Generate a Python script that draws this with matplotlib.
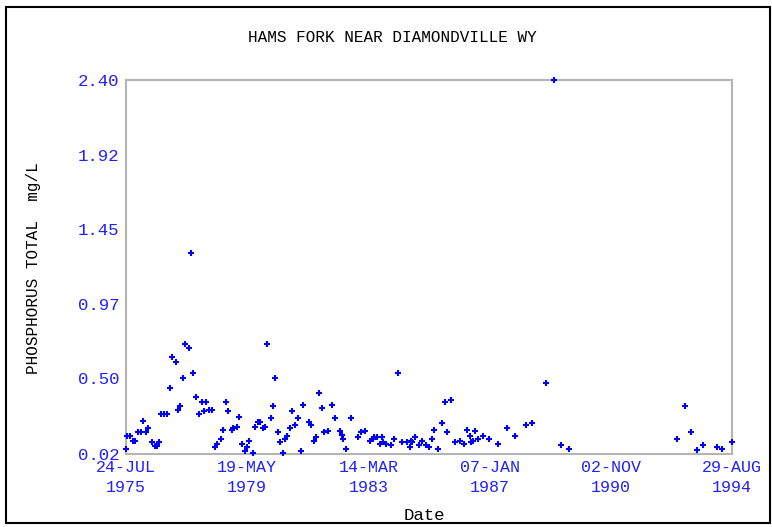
import matplotlib
matplotlib.use("Agg")
import matplotlib.pyplot as plt
from matplotlib.patches import Rectangle
import pandas as pd

title = "HAMS FORK NEAR DIAMONDVILLE WY"
ylabel = "PHOSPHORUS TOTAL  mg/L"
xlabel = "Date"

tick_dates = ["1975-07-24", "1979-05-19", "1983-03-14", "1987-01-07", "1990-11-02", "1994-08-29"]
tick_labels = ["24-JUL\n1975", "19-MAY\n1979", "14-MAR\n1983", "07-JAN\n1987", "02-NOV\n1990", "29-AUG\n1994"]
ytick_values = [0.02, 0.50, 0.97, 1.45, 1.92, 2.40]

# sample dates as decimal years
years = [
    1975.56, 1975.58, 1975.70, 1975.77, 1975.83, 1975.93, 1976.03, 1976.10, 1976.19, 1976.26,
    1976.38, 1976.46, 1976.53, 1976.60, 1976.67, 1976.76, 1976.86, 1976.94, 1977.01, 1977.13,
    1977.20, 1977.27, 1977.35, 1977.42, 1977.54, 1977.60, 1977.68, 1977.77, 1977.87, 1977.945,
    1978.02, 1978.09, 1978.17, 1978.28, 1978.36, 1978.44, 1978.54, 1978.63, 1978.70, 1978.77,
    1978.89, 1978.93, 1979.05, 1979.11, 1979.22, 1979.30, 1979.37, 1979.44, 1979.56, 1979.63,
    1979.71, 1979.78, 1979.87, 1979.94, 1980.01, 1980.12, 1980.20, 1980.26, 1980.35, 1980.42,
    1980.50, 1980.57, 1980.64, 1980.73, 1980.80, 1980.88, 1980.99, 1981.06, 1981.13, 1981.33,
    1981.40, 1981.48, 1981.55, 1981.63, 1981.74, 1981.81, 1981.93, 1982.04, 1982.16, 1982.30,
    1982.38, 1982.41, 1982.48, 1982.64, 1982.86, 1982.98, 1983.08, 1983.24, 1983.34, 1983.38,
    1983.46, 1983.56, 1983.62, 1983.66, 1983.76, 1983.91, 1984.00, 1984.14, 1984.25, 1984.41,
    1984.51, 1984.54, 1984.58, 1984.67, 1984.80, 1984.88, 1985.01, 1985.11, 1985.19, 1985.28,
    1985.38, 1985.53, 1985.61, 1985.68, 1985.79, 1985.94, 1986.09, 1986.21, 1986.32, 1986.39,
    1986.43, 1986.51, 1986.55, 1986.65, 1986.81, 1987.00, 1987.29, 1987.56, 1987.82, 1988.16,
    1988.35, 1988.78, 1989.05, 1989.28, 1989.51, 1992.92, 1993.18, 1993.37, 1993.56, 1993.75,
    1994.20, 1994.35, 1994.658,
]

phosphorus = [
    0.05, 0.13, 0.13, 0.10, 0.10, 0.155, 0.155, 0.23, 0.155, 0.18,
    0.095, 0.07, 0.07, 0.095, 0.27, 0.27, 0.27, 0.435, 0.635, 0.60,
    0.30, 0.32, 0.50, 0.72, 0.69, 1.30, 0.535, 0.38, 0.27, 0.35,
    0.29, 0.35, 0.30, 0.30, 0.063, 0.08, 0.11, 0.17, 0.345, 0.29,
    0.17, 0.18, 0.19, 0.25, 0.08, 0.034, 0.063, 0.10, 0.02, 0.19,
    0.22, 0.22, 0.18, 0.19, 0.72, 0.245, 0.32, 0.50, 0.155, 0.095,
    0.02, 0.11, 0.13, 0.18, 0.29, 0.20, 0.245, 0.034, 0.33, 0.22,
    0.20, 0.10, 0.125, 0.405, 0.31, 0.155, 0.163, 0.33, 0.245, 0.163,
    0.14, 0.11, 0.05, 0.245, 0.125, 0.155, 0.163, 0.10, 0.11, 0.125,
    0.125, 0.08, 0.125, 0.095, 0.08, 0.072, 0.11, 0.535, 0.095, 0.095,
    0.063, 0.10, 0.095, 0.125, 0.072, 0.10, 0.072, 0.063, 0.11, 0.17,
    0.05, 0.215, 0.35, 0.155, 0.36, 0.095, 0.10, 0.08, 0.17, 0.13,
    0.095, 0.10, 0.163, 0.11, 0.13, 0.11, 0.08, 0.18, 0.13, 0.20,
    0.215, 0.47, 2.40, 0.072, 0.05, 0.11, 0.32, 0.155, 0.042, 0.072,
    0.063, 0.05, 0.095,
]


def decimal_year(ts):
    start = pd.Timestamp(year=ts.year, month=1, day=1)
    end = pd.Timestamp(year=ts.year + 1, month=1, day=1)
    return ts.year + (ts - start) / (end - start)


tick_pos = [decimal_year(pd.Timestamp(d)) for d in tick_dates]

W, H = 772, 527
fig = plt.figure(figsize=(W / 100, H / 100), dpi=100)
fig.patch.set_facecolor("white")

ax = fig.add_axes([126 / W, 1 - 453.5 / H, 606 / W, 373.5 / H])
ax.plot(years, phosphorus, linestyle="none", marker="+", markersize=5,
        markeredgewidth=1.5, color="#0000ff", clip_on=False, zorder=3)

ax.set_xlim(tick_pos[0], tick_pos[-1])
ax.set_ylim(ytick_values[0], ytick_values[-1])

mono = ["Liberation Mono", "DejaVu Sans Mono"]
ax.set_xticks(tick_pos)
ax.set_xticklabels(tick_labels, fontsize=12, color="#2020ff", family=mono,
                   linespacing=1.35)
ax.set_yticks(ytick_values)
ax.set_yticklabels([f"{v:.2f}" for v in ytick_values], fontsize=12.5,
                   color="#2020ff", family=mono)
ax.tick_params(axis="both", length=0)
ax.tick_params(axis="x", pad=5)
ax.tick_params(axis="y", pad=5)

for s in ax.spines.values():
    s.set_color("#b4b4b4")
    s.set_linewidth(1.5)

fig.text(392 / W, 1 - 37 / H, title, ha="center", va="center",
         fontsize=11.5, family=mono, color="black")
fig.text(34 / W, 1 - 268 / H, ylabel, ha="center", va="center",
         rotation=90, fontsize=11.5, family=mono, color="black")
fig.text(424 / W, 1 - 516 / H, xlabel, ha="center", va="center",
         fontsize=12.5, family=mono, color="black")

# outer frame
fig.add_artist(Rectangle((6 / W, 1 - 523 / H), 764 / W, 516 / H,
                         transform=fig.transFigure, fill=False,
                         edgecolor="black", linewidth=1.5))

fig.savefig("out.png", dpi=100)
